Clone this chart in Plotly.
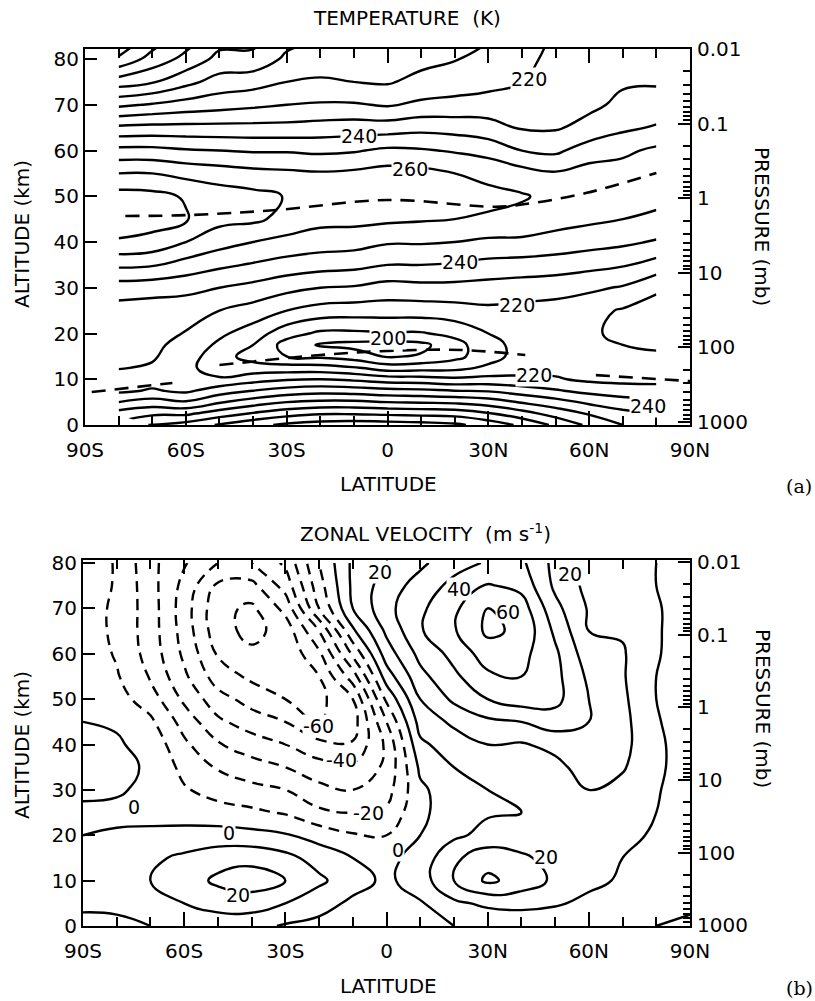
import math
import plotly.graph_objects as go

nan = float("nan")

# ---------------- Panel (a): temperature (K) ----------------
t_lat = [-80, -70, -60, -50, -40, -30, -20, -10, 0, 10, 20, 30, 40, 50, 60, 70, 80]
t_alt = [0, 2.5, 5, 7.5, 10, 12.5, 15, 17.5, 20, 25, 30, 35, 40, 45, 50, 55, 60, 65, 70, 75, 80, 85]

T_80S = [nan, 254, 240, 228, 226, 230.5, 232, 233, 234, 236, 245, 262, 279, 285, 284, 270, 253, 232, 208, 185, 162, 145]
T_70S = [271, 258, 244, 231, 226, 229, 231, 232, 233, 235, 244, 261, 277, 284, 283, 270, 253, 233, 211, 189, 174, 163]
T_60S = [274, 258, 241, 228, 225, 224, 225, 227, 229.5, 234, 243, 256, 270, 281, 279, 267, 251, 233, 214, 197, 183, 174]
T_50S = [281, 265, 249, 235, 222, 212, 214, 218, 222, 230, 240, 252, 264, 273, 275, 265, 250, 233, 216, 204, 193, 185]
T_40S = [287, 271, 255, 240, 226, 214, 206, 210, 215, 226, 237, 249, 260, 272, 273, 263, 249, 233, 218, 206, 193, 186]
T_30S = [292, 276, 260, 244, 229, 214, 200, 196, 204, 220, 233, 246, 257, 267, 269.5, 262, 249, 233, 220, 210, 202, 196]
T_20S = [295, 279, 262, 246, 230, 214, 198, 189, 198, 216, 230, 244, 255, 263, 266, 261, 248, 234, 221, 211.5, 204, 199]
T_10S = [296, 279, 262, 245, 228, 211, 195, 187, 198, 215, 229, 243, 254, 263, 266, 262, 249, 235, 221, 210, 204, 200]
T_EQ = [295, 278, 260, 243, 225, 205, 189, 186, 199, 215, 226, 240, 251, 262, 265, 264, 252, 235, 219, 209, 205, 201]
T_10N = [294, 277, 259, 242, 224, 206, 191, 187.5, 199, 215, 227, 240, 251, 261, 264, 263, 251, 237, 222, 213, 207, 202]
T_20N = [292, 276, 258, 240, 222, 207, 197, 196, 203, 216, 227, 239, 250, 260, 263, 260, 249, 236, 223, 215, 209.5, 205]
T_30N = [286, 271, 255, 239, 223, 212, 206, 207, 210, 218, 226, 237, 248, 259, 262, 258, 246, 234, 224, 217, 213, 209]
T_40N = [278, 264, 249, 235, 222, 216, 214, 213, 213, 217, 225, 236, 248, 257, 261, 254, 240, 229, 224, 220, 218, 216]
T_50N = [268, 256, 244, 231, 221, 217, 215, 214, 213, 216, 224, 235, 246, 254, 257, 251, 238, 229, 226, 224, 222, 221]
T_60N = [258, 249, 238, 227, 218, 215, 213, 212, 211, 213, 222, 233, 244, 252, 256, 254, 245, 233, 228, 226, 224, 223]
T_70N = [250, 243, 234, 225, 217, 214, 212, 210, 208.5, 209, 219, 231, 242, 250, 254, 254, 248, 238, 232, 229, 227, 226]
T_80N = [246, 240, 232, 224, 217, 213, 211, 209, 207, 205, 212, 226, 239, 248, 253, 255, 252, 241, 234, 229, 227, 225]

# stratopause / tropopause (dashed lines)
strat_lat = [-78, -59, -33, 0, 32, 41, 59, 80]
strat_alt = [45.7, 45.9, 47.0, 49.2, 47.7, 48.3, 50.7, 55.1]
trop_s_lat = [-88, -64]
trop_s_alt = [7.2, 9.2]
trop_t_lat = [-50, -20, 0, 22, 41]
trop_t_alt = [13.1, 15.3, 16.2, 16.4, 15.3]
trop_n_lat = [62, 90]
trop_n_alt = [10.9, 9.6]

t_label_lat = [42, -8.6, 6.7, 21.6, 38.5, 0, 43.6, 77.5]
t_label_alt = [75.6, 63.1, 56.0, 35.6, 26.2, 19.0, 10.9, 4.2]
t_label_txt = ["220", "240", "260", "240", "220", "200", "220", "240"]

# ---------------- Panel (b): zonal velocity (m/s) ----------------
u_lat = [-90, -80, -70, -60, -50, -40, -30, -20, -10, 0, 10, 20, 30, 40, 50, 60, 70, 80, 90]
u_alt = [0, 5, 10, 15, 20, 25, 30, 35, 40, 45, 50, 55, 60, 65, 70, 75, 80]

U_90S = [-3, 2, 4, 3, 0, -1, 1, 2, 1, 0, -2, -3, -4, -5, -5, -4, -3]
U_80S = [-3, 3, 6, 4, 1, -2, 1, 2, 1, -1, -6, -9, -11, -12, -12, -11, -11]
U_70S = [0, 6, 10, 8, 2, -3, -2, -1, -3, -8, -15, -21, -24, -25, -25, -26, -27]
U_60S = [2, 10, 15, 12, 3, -4, -9, -13, -18, -24, -32, -38, -42, -44, -45, -43, -39]
U_50S = [4, 14, 22, 16, 4, -6, -14, -21, -29, -38, -46, -55, -61, -66, -67, -62, -50]
U_40S = [3, 15, 25, 17, 3, -8, -17, -26, -35, -45, -54, -62, -68, -73, -72, -63, -50]
U_30S = [-1, 10, 20, 13, 1, -11, -20, -30, -40, -50, -60, -66, -68, -66, -57, -46, -38]
U_20S = [-3, 4, 12, 6, -4, -18, -27, -36, -47, -61, -63, -60, -52, -40, -20, -14, -10]
U_10S = [-5, -2, 4, 0, -9, -20, -30, -38, -49, -55, -50, -35, -18, -2, 10, 12, 12]
U_EQ = [-5, -4, -2, -3, -10, -18, -24, -28, -28, -20, -8, 5, 15, 22, 27, 25, 20]
U_10N = [-3, -1, 5, 4, 0, -2, -2, 2, 8, 14, 20, 27, 33, 39, 38, 34, 28]
U_20N = [0, 8, 20, 18, 8, 5, 6, 10, 15, 22, 32, 38, 43, 49, 48, 43, 36]
U_30N = [2, 12, 32, 26, 13, 9, 10, 14, 20, 28, 40, 48, 55, 62, 60, 51, 41]
U_40N = [3, 13, 26, 22, 13, 10, 11, 14, 19, 30, 45, 50, 53, 58, 55, 47, 42]
U_50N = [4, 11, 18, 16, 13, 12, 13, 17, 23, 35, 43, 43, 42, 38, 33, 28, 27]
U_60N = [3, 8, 12, 12, 13, 15, 20, 25, 28, 30, 30, 28, 24, 20, 19, 17, 16]
U_70N = [1, 5, 9, 10, 12, 14, 17, 21, 23, 23, 22, 21, 21, 19, 16, 14, 13]
U_80N = [0, 3, 6, 7, 9, 10, 11, 12, 12, 11, 10, 10, 11, 11, 11, 10, 10]
U_90N = [-1, 1, 2, 2, 3, 3, 4, 5, 5, 4, 3, 3, 4, 5, 5, 5, 5]

u_label_lat = [-1.9, 21.5, 36, 54.4, -20.3, -13.2, -5.2, -74.9, -46.7, 3.4, -44, 47.3]
u_label_alt = [78.0, 74.2, 69.2, 77.5, 44.0, 36.6, 24.9, 26.2, 20.5, 16.7, 6.8, 15.2]
u_label_txt = ["20", "40", "60", "20", "-60", "-40", "-20", "0", "0", "0", "20", "20"]

# axis tick labels
lat_ticks = [-90, -60, -30, 0, 30, 60, 90]
lat_ticktext = ["90S", "60S", "30S", "0", "30N", "60N", "90N"]
lat_minor = [-80, -70, -50, -40, -20, -10, 10, 20, 40, 50, 70, 80]
alt_ticks = [0, 10, 20, 30, 40, 50, 60, 70, 80]
p_ticks = [0.01, 0.1, 1, 10, 100, 1000]
p_ticktext = ["0.01", "0.1", "1", "10", "100", "1000"]
p_minor = [m * 10 ** e for e in range(-2, 3) for m in range(2, 10)]


def columns_to_grid(cols):
    rows = []
    for i in range(len(cols[0])):
        row = []
        for c in cols:
            v = c[i]
            row.append(None if (isinstance(v, float) and math.isnan(v)) else v)
        rows.append(row)
    return rows


Z_T = columns_to_grid([T_80S, T_70S, T_60S, T_50S, T_40S, T_30S, T_20S, T_10S, T_EQ,
                       T_10N, T_20N, T_30N, T_40N, T_50N, T_60N, T_70N, T_80N])
Z_U = columns_to_grid([U_90S, U_80S, U_70S, U_60S, U_50S, U_40S, U_30S, U_20S, U_10S, U_EQ,
                       U_10N, U_20N, U_30N, U_40N, U_50N, U_60N, U_70N, U_80N, U_90N])

W, H = 815, 1001
FONT = "DejaVu Sans"
BLACK_SCALE = [[0, "black"], [1, "black"]]
LW = 2.4


def px(x):
    return x / W


def py(y):
    return 1 - y / H


fig = go.Figure()


def contour(x, y, z, start, end, xa, ya, dash=None):
    ln = dict(width=LW, smoothing=1.3)
    if dash:
        ln["dash"] = dash
    return go.Contour(
        x=x, y=y, z=z, xaxis=xa, yaxis=ya,
        autocontour=False,
        contours=dict(coloring="lines", start=start, end=end, size=10, showlabels=False),
        line=ln, colorscale=BLACK_SCALE, showscale=False, hoverinfo="skip", connectgaps=False,
    )


fig.add_trace(contour(t_lat, t_alt, Z_T, 140, 290, "x", "y"))
fig.add_trace(contour(u_lat, u_alt, Z_U, -90, -10, "x2", "y3", dash="11px,7px"))
fig.add_trace(contour(u_lat, u_alt, Z_U, 0, 70, "x2", "y3"))

for lx, ly in [(strat_lat, strat_alt), (trop_s_lat, trop_s_alt), (trop_t_lat, trop_t_alt), (trop_n_lat, trop_n_alt)]:
    fig.add_trace(go.Scatter(x=lx, y=ly, mode="lines", xaxis="x", yaxis="y",
                             line=dict(color="black", width=2.6, dash="14px,9px", shape="spline"),
                             showlegend=False, hoverinfo="skip"))


def dummy(xa, ya, yv):
    return go.Scatter(x=[0], y=[yv], xaxis=xa, yaxis=ya, mode="markers",
                      marker=dict(opacity=0), showlegend=False, hoverinfo="skip")


# invisible traces so the overlay axes (pressure scale, minor ticks) get drawn
fig.add_trace(dummy("x", "y2", 1))
fig.add_trace(dummy("x2", "y4", 1))
fig.add_trace(dummy("x", "y5", 1))
fig.add_trace(dummy("x2", "y6", 1))
fig.add_trace(dummy("x3", "y", 1))
fig.add_trace(dummy("x4", "y3", 1))

tickfont = dict(family=FONT, size=20, color="black")
common = dict(showgrid=False, zeroline=False, automargin=False, tickcolor="black")


def xaxis_cfg(domain, anchor):
    return dict(domain=domain, anchor=anchor, range=[-90, 90], tickmode="array",
                tickvals=lat_ticks, ticktext=lat_ticktext, ticks="inside", ticklen=14,
                tickwidth=2, showline=True, linewidth=2, linecolor="black", mirror="ticks",
                tickfont=tickfont, ticklabelstandoff=6, **common)


def xminor_cfg(over, anchor):
    return dict(overlaying=over, anchor=anchor, side="bottom", range=[-90, 90], tickmode="array",
                tickvals=lat_minor, ticks="inside", ticklen=9, tickwidth=2, mirror="ticks",
                showticklabels=False, showline=False, **common)


def yaxis_cfg(domain, anchor, top):
    return dict(domain=domain, anchor=anchor, range=[0, top], tickmode="array",
                tickvals=alt_ticks, ticksuffix="  ", ticks="inside", ticklen=12, tickwidth=2,
                showline=True, linewidth=2, linecolor="black", mirror=True,
                tickfont=tickfont, **common)


def paxis_cfg(over, anchor, rng):
    return dict(overlaying=over, anchor=anchor, side="right", type="log", range=rng,
                tickmode="array", tickvals=p_ticks, ticktext=p_ticktext,
                ticks="inside", ticklen=12, tickwidth=2,
                showline=False, tickfont=tickfont, ticklabelstandoff=6, **common)


def pminor_cfg(over, anchor, rng):
    return dict(overlaying=over, anchor=anchor, side="right", type="log", range=rng,
                tickmode="array", tickvals=p_minor, ticks="inside", ticklen=7, tickwidth=1.5,
                showticklabels=False, showline=False, **common)


RNG_A = [3.04, -2.0]
RNG_B = [3.01, -2.03]

fig.update_layout(
    width=W, height=H, margin=dict(l=0, r=0, t=0, b=0, autoexpand=False),
    paper_bgcolor="white", plot_bgcolor="white", showlegend=False,
    xaxis=xaxis_cfg([px(85), px(690)], "y"),
    yaxis=yaxis_cfg([py(425), py(49)], "x", 82.2),
    yaxis2=paxis_cfg("y", "x", RNG_A),
    yaxis5=pminor_cfg("y", "x", RNG_A),
    xaxis3=xminor_cfg("x", "y"),
    xaxis2=xaxis_cfg([px(83), px(690)], "y3"),
    yaxis3=yaxis_cfg([py(926), py(560)], "x2", 80.66),
    yaxis4=paxis_cfg("y3", "x2", RNG_B),
    yaxis6=pminor_cfg("y3", "x2", RNG_B),
    xaxis4=xminor_cfg("x2", "y3"),
)

ann = []
lblfont = dict(family=FONT, size=19, color="black")
for lx, ly, tx in zip(t_label_lat, t_label_alt, t_label_txt):
    ann.append(dict(x=lx, y=ly, xref="x", yref="y", text=tx, showarrow=False, font=lblfont,
                    bgcolor="white", borderpad=0, xanchor="center", yanchor="middle"))
for lx, ly, tx in zip(u_label_lat, u_label_alt, u_label_txt):
    ann.append(dict(x=lx, y=ly, xref="x2", yref="y3", text=tx, showarrow=False, font=lblfont,
                    bgcolor="white", borderpad=0, xanchor="center", yanchor="middle"))

titlefont = dict(family=FONT, size=20, color="black")
texts = [
    ("TEMPERATURE  (K)", 407, 18, 0, titlefont),
    ("ZONAL VELOCITY  (m s<sup>-1</sup>)", 425, 533, 0, titlefont),
    ("LATITUDE", 388, 484, 0, titlefont),
    ("LATITUDE", 388, 986, 0, titlefont),
    ("ALTITUDE (km)", 22, 234, -90, titlefont),
    ("ALTITUDE (km)", 22, 745, -90, titlefont),
    ("PRESSURE (mb)", 762, 226, 90, titlefont),
    ("PRESSURE (mb)", 763, 708, 90, titlefont),
    ("(a)", 799, 486, 0, dict(family="DejaVu Serif", size=19, color="black")),
    ("(b)", 799, 988, 0, dict(family="DejaVu Serif", size=19, color="black")),
]
for tx, x, y, ang, f in texts:
    ann.append(dict(x=px(x), y=py(y), xref="paper", yref="paper", text=tx, showarrow=False,
                    font=f, textangle=ang, xanchor="center", yanchor="middle"))

fig.update_layout(annotations=ann)
fig.write_html("out.html")
